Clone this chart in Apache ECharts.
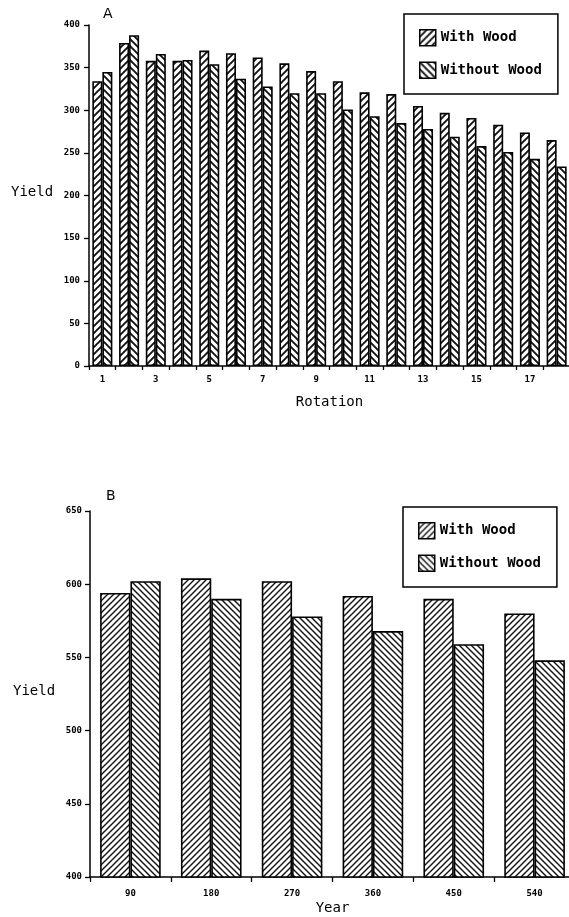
<!DOCTYPE html>
<html>
<head>
<meta charset="utf-8">
<script src="https://cdn.jsdelivr.net/npm/echarts@6/dist/echarts.min.js"></script>
<style>
html,body{margin:0;padding:0;background:#fff;overflow:hidden;}
#c{width:569px;height:917px;}
</style>
</head>
<body>
<div id="c"></div>
<script>
// ---- data ----
var rotations = ['1','2','3','4','5','6','7','8','9','10','11','12','13','14','15','16','17','18'];
var withWoodA = [334,379,358,358,370,367,362,355,346,334,321,319,305,297,291,283,274,265];
var withoutWoodA = [345,388,366,359,354,337,328,320,320,301,293,285,278,269,258,251,243,234];
var years = ['90','180','270','360','450','540'];
var withWoodB = [594,604,602,592,590,580];
var withoutWoodB = [602,590,578,568,559,548];
var seriesNames = ['With Wood','Without Wood'];

function hatch(size, lw, dir) {
  var c = document.createElement('canvas');
  c.width = size; c.height = size;
  var g = c.getContext('2d');
  g.fillStyle = '#fff'; g.fillRect(0,0,size,size);
  g.strokeStyle = '#111'; g.lineWidth = lw; g.lineCap = 'square';
  g.beginPath();
  if (dir > 0) { // "/"
    g.moveTo(-1, size+1); g.lineTo(size+1, -1);
    g.moveTo(-size-1, size+1); g.lineTo(1, -1);
    g.moveTo(size-1, size+1); g.lineTo(2*size+1, -1);
  } else { // "\"
    g.moveTo(-1, -1); g.lineTo(size+1, size+1);
    g.moveTo(-size-1, -1); g.lineTo(1, size+1);
    g.moveTo(size-1, -1); g.lineTo(2*size+1, size+1);
  }
  g.stroke();
  return {image: c, repeat: 'repeat'};
}
var patA1 = hatch(7, 1.9, 1), patA2 = hatch(7, 1.9, -1);
var patB1 = hatch(6, 1.4, 1), patB2 = hatch(6, 1.4, -1);

var FONT = 'DejaVu Sans Mono';
var axisLine = {show:true, lineStyle:{color:'#000', width:1.5}};
var tick = {show:true, length:5, lineStyle:{color:'#000', width:1.3}};

var chart = echarts.init(document.getElementById('c'), null, {renderer:'canvas'});
chart.setOption({
  animation:false,
  backgroundColor:'#fff',
  textStyle:{fontFamily:FONT, color:'#000'},
  grid:[
    {left:89, width:481, top:25, bottom:551, containLabel:false, outerBoundsMode:'none'},
    {left:90, width:485, top:511, bottom:40, containLabel:false, outerBoundsMode:'none'}
  ],
  legend:[
    {data:seriesNames, orient:'vertical', left:404, top:14, padding:[15,16,15,15],
     itemGap:15, itemWidth:16, itemHeight:16, icon:'rect',
     borderColor:'#000', borderWidth:1.5,
     textStyle:{fontFamily:FONT, fontSize:14, fontWeight:'bold', color:'#000'},
     itemStyle:{borderColor:'#000', borderWidth:1.5},
     selectedMode:false},
    {data:[{name:'With Wood B', icon:'rect'}, {name:'Without Wood B', icon:'rect'}],
     formatter:function(n){return n.replace(' B','');},
     orient:'vertical', left:403, top:507, padding:[15,16,15,15],
     itemGap:15, itemWidth:16, itemHeight:16,
     borderColor:'#000', borderWidth:1.5,
     textStyle:{fontFamily:FONT, fontSize:14, fontWeight:'bold', color:'#000'},
     itemStyle:{borderColor:'#000', borderWidth:1.5},
     selectedMode:false}
  ],
  xAxis:[
    {type:'category', gridIndex:0, data:rotations, boundaryGap:true,
     axisLine:axisLine, axisTick:{show:true, length:4, interval:0, lineStyle:{color:'#000', width:1.3}},
     axisLabel:{interval:1, fontSize:9, fontWeight:'bold', color:'#000', margin:9, fontFamily:FONT},
     name:'Rotation', nameLocation:'middle', nameGap:29,
     nameTextStyle:{fontSize:14, fontFamily:FONT, color:'#000'}},
    {type:'category', gridIndex:1, data:years, boundaryGap:true,
     axisLine:axisLine, axisTick:{show:true, length:5, interval:0, lineStyle:{color:'#000', width:1.3}},
     axisLabel:{interval:0, fontSize:9, fontWeight:'bold', color:'#000', margin:12, fontFamily:FONT},
     name:'Year', nameLocation:'middle', nameGap:24,
     nameTextStyle:{fontSize:14, fontFamily:FONT, color:'#000'}}
  ],
  yAxis:[
    {type:'value', gridIndex:0, min:0, max:400, interval:50,
     axisLine:axisLine, axisTick:tick, splitLine:{show:false},
     axisLabel:{fontSize:9, fontWeight:'bold', color:'#000', margin:9, fontFamily:FONT}},
    {type:'value', gridIndex:1, min:400, max:650, interval:50,
     axisLine:axisLine, axisTick:tick, splitLine:{show:false},
     axisLabel:{fontSize:9, fontWeight:'bold', color:'#000', margin:8, fontFamily:FONT}}
  ],
  graphic:[
    {type:'text', left:103, top:7, style:{text:'A', font:'14px "DejaVu Sans"', fill:'#000'}},
    {type:'text', left:106, top:489, style:{text:'B', font:'14px "DejaVu Sans"', fill:'#000'}},
    {type:'text', left:11, top:185, style:{text:'Yield', font:'14px "DejaVu Sans Mono"', fill:'#000'}},
    {type:'text', left:13, top:684, style:{text:'Yield', font:'14px "DejaVu Sans Mono"', fill:'#000'}}
  ],
  series:[
    {name:'With Wood', type:'bar', xAxisIndex:0, yAxisIndex:0, data:withWoodA,
     barGap:'0%', barCategoryGap:'25%',
     itemStyle:{color:patA1, borderColor:'#000', borderWidth:1.6}},
    {name:'Without Wood', type:'bar', xAxisIndex:0, yAxisIndex:0, data:withoutWoodA,
     barGap:'0%', barCategoryGap:'25%',
     itemStyle:{color:patA2, borderColor:'#000', borderWidth:1.6}},
    {name:'With Wood B', type:'bar', xAxisIndex:1, yAxisIndex:1, data:withWoodB,
     barGap:'0%', barCategoryGap:'25%',
     itemStyle:{color:patB1, borderColor:'#000', borderWidth:1.6}},
    {name:'Without Wood B', type:'bar', xAxisIndex:1, yAxisIndex:1, data:withoutWoodB,
     barGap:'0%', barCategoryGap:'25%',
     itemStyle:{color:patB2, borderColor:'#000', borderWidth:1.6}}
  ]
});
</script>
</body>
</html>
